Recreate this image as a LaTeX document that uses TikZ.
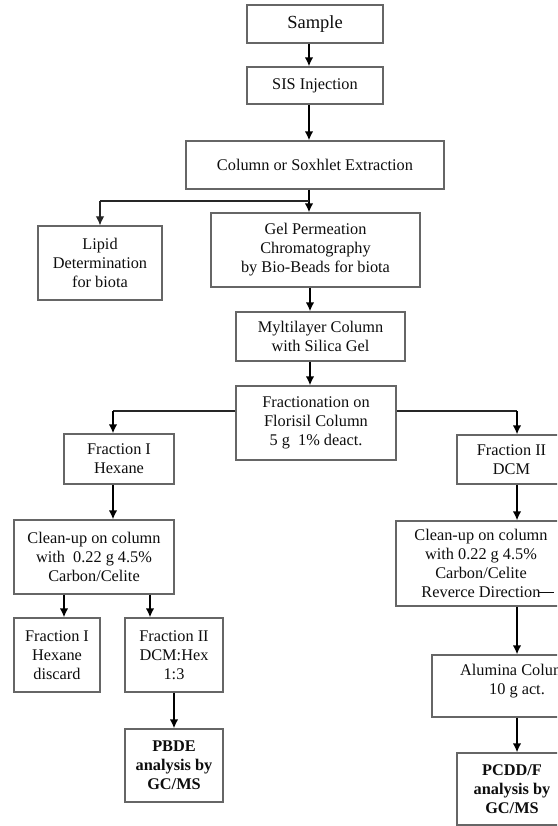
\documentclass[tikz,border=0pt]{standalone}
\usepackage{fontspec}
\setmainfont{Liberation Serif}
\usetikzlibrary{arrows.meta}
\begin{document}
\begin{tikzpicture}[x=1pt,y=-1pt,
 box/.style={draw=black!60, line width=1.2pt, align=center, inner sep=0pt, text=black!95,
   font=\fontsize{16.3}{19}\selectfont},
 bigtxt/.style={font=\fontsize{18.5}{21}\selectfont},
 bold/.style={font=\fontsize{16.3}{19}\selectfont\bfseries},
 arr/.style={draw=black, line width=1.7pt, -{Latex[length=9pt,width=8.5pt]}},
 thinarr/.style={draw=black!85, line width=1.2pt, -{Latex[length=9pt,width=8.5pt]}},
 thinln/.style={draw=black!85, line width=1.2pt}]
\useasboundingbox (0,0) rectangle (557,826);
\clip (0,0) rectangle (557,826);

% nodes
\node[box, bigtxt, minimum width=136pt, minimum height=38pt] (sample) at (315,24) {Sample};
\node[box, minimum width=136pt, minimum height=37pt] (sis) at (315,85.5) {SIS Injection};
\node[box, minimum width=258pt, minimum height=48pt] (col) at (315,165) {Column or Soxhlet Extraction};
\node[box, minimum width=124pt, minimum height=74pt] (lipid) at (100,263) {Lipid\\Determination\\for biota};
\node[box, minimum width=209pt, minimum height=74pt] (gpc) at (315.5,250) {Gel Permeation\\Chromatography\\by Bio-Beads for biota};
\node[box, minimum width=169pt, minimum height=49pt] (multi) at (320.5,336.5) {Myltilayer Column\\with Silica Gel};
\node[box, minimum width=160pt, minimum height=74pt] (frac) at (316,423) {Fractionation on\\Florisil Column\\5 g\ \ 1\% deact.};
\node[box, minimum width=110pt, minimum height=50pt] (f1hex) at (119,459) {Fraction I\\Hexane};
\node[box, minimum width=109pt, minimum height=49pt] (f2dcm) at (511.5,459.5) {Fraction II\\DCM};
\node[box, minimum width=160pt, minimum height=74pt] (cl1) at (94,557) {Clean-up on column\\with\ \ 0.22 g 4.5\%\\Carbon/Celite};
\node[box, minimum width=170pt, minimum height=85pt] (cl2) at (481,563.5) {Clean-up on column\\with 0.22 g 4.5\%\\Carbon/Celite\\Reverce Direction\rlap{\kern-3pt\rule[5pt]{16pt}{0.8pt}}};
\node[box, minimum width=86pt, minimum height=74pt] (discard) at (57,655) {Fraction I\\Hexane\\discard};
\node[box, minimum width=98pt, minimum height=74pt] (f2hex) at (174,655) {Fraction II\\DCM:Hex\\1:3};
\node[box, bold, minimum width=98pt, minimum height=73pt] (pbde) at (174,765.5) {PBDE\\analysis by\\GC/MS};
\node[box, minimum width=170pt, minimum height=62pt, text depth=14pt] (alum) at (517,686) {Alumina Column\\10 g act.};
\node[box, bold, minimum width=110pt, minimum height=72pt] (pcdd) at (512,789) {PCDD/F\\analysis by\\GC/MS};

% connector coordinates
\coordinate (xa) at (309,0);
\coordinate (xb) at (310,0);
\coordinate (j1) at (309,201);
\coordinate (xl) at (113,411);
\coordinate (xr) at (517,411);
\coordinate (xc) at (64,0);
\coordinate (xd) at (150,0);
\coordinate (xe) at (174,0);

% connectors
\draw[arr] (xa |- sample.south) -- (xa |- sis.north);
\draw[arr] (xa |- sis.south) -- (xa |- col.north);
\draw[arr] (xa |- col.south) -- (xa |- gpc.north);
\draw[thinln] (j1) -- (j1 -| lipid.north);
\draw[thinarr] (j1 -| lipid.north) -- (lipid.north);
\draw[arr] (xb |- gpc.south) -- (xb |- multi.north);
\draw[arr] (xb |- multi.south) -- (xb |- frac.north);
\draw[thinln] (frac.west |- xl) -- (xl);
\draw[arr] (xl) -- (xl |- f1hex.north);
\draw[thinln] (frac.east |- xr) -- (xr);
\draw[arr] (xr) -- (xr |- f2dcm.north);
\draw[arr] (xl |- f1hex.south) -- (xl |- cl1.north);
\draw[arr] (xc |- cl1.south) -- (xc |- discard.north);
\draw[arr] (xd |- cl1.south) -- (xd |- f2hex.north);
\draw[arr] (xe |- f2hex.south) -- (xe |- pbde.north);
\draw[arr] (xr |- f2dcm.south) -- (xr |- cl2.north);
\draw[arr] (xr |- cl2.south) -- (xr |- alum.north);
\draw[arr] (xr |- alum.south) -- (xr |- pcdd.north);
\end{tikzpicture}
\end{document}
